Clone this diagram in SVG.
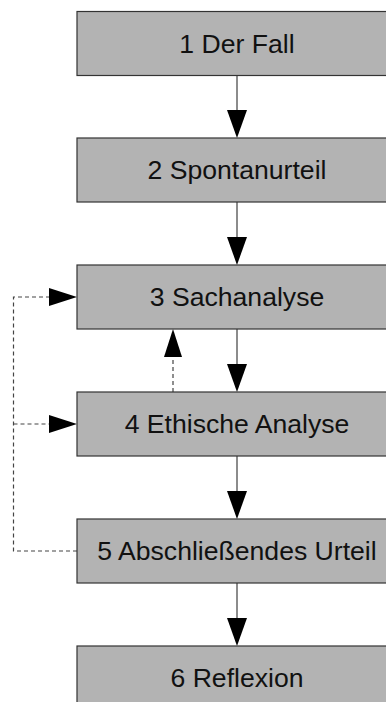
<svg xmlns="http://www.w3.org/2000/svg" width="386" height="702" viewBox="0 0 386 702">
<style>
.box{fill:#b3b3b3;stroke:#333;stroke-width:1.2}
.lbl{font-family:"Liberation Sans",Arial,sans-serif;font-size:26.6px;fill:#111;text-anchor:middle}
.flow{stroke:#666;stroke-width:1.5;fill:none}
.dash{stroke:#444;stroke-width:1.2;fill:none;stroke-dasharray:4,3}
.head{fill:#000}
</style>
<rect width="386" height="702" fill="#fff"/>
<g id="connectors">
<line class="flow" x1="237" y1="75" x2="237" y2="112"/>
<polygon class="head" points="227,110 247,110 237,138"/>
<line class="flow" x1="237" y1="202" x2="237" y2="239"/>
<polygon class="head" points="227,237 247,237 237,265"/>
<line class="flow" x1="237" y1="329" x2="237" y2="366"/>
<polygon class="head" points="227,364 247,364 237,392"/>
<line class="flow" x1="237" y1="456" x2="237" y2="493"/>
<polygon class="head" points="227,491 247,491 237,519"/>
<line class="flow" x1="237" y1="583" x2="237" y2="620"/>
<polygon class="head" points="227,618 247,618 237,646"/>
<polyline class="dash" points="77,551 13.5,551 13.5,297 51,297"/>
<polygon class="head" points="49,288 49,306 77,297"/>
<line class="dash" x1="13.5" y1="424" x2="51" y2="424"/>
<polygon class="head" points="49,415 49,433 77,424"/>
<line class="dash" x1="173" y1="392" x2="173" y2="355"/>
<polygon class="head" points="164,357 182,357 173,329"/>
</g>
<g id="n1"><rect class="box" x="77" y="11.5" width="320" height="64"/><text class="lbl" x="237" y="52.5">1 Der Fall</text></g>
<g id="n2"><rect class="box" x="77" y="138" width="320" height="64"/><text class="lbl" x="237" y="179">2 Spontanurteil</text></g>
<g id="n3"><rect class="box" x="77" y="265" width="320" height="64"/><text class="lbl" x="237" y="306">3 Sachanalyse</text></g>
<g id="n4"><rect class="box" x="77" y="392" width="320" height="64"/><text class="lbl" x="237" y="433">4 Ethische Analyse</text></g>
<g id="n5"><rect class="box" x="77" y="519" width="320" height="64"/><text class="lbl" x="237" y="560">5 Abschließendes Urteil</text></g>
<g id="n6"><rect class="box" x="77" y="646" width="320" height="64"/><text class="lbl" x="237" y="687">6 Reflexion</text></g>
</svg>
